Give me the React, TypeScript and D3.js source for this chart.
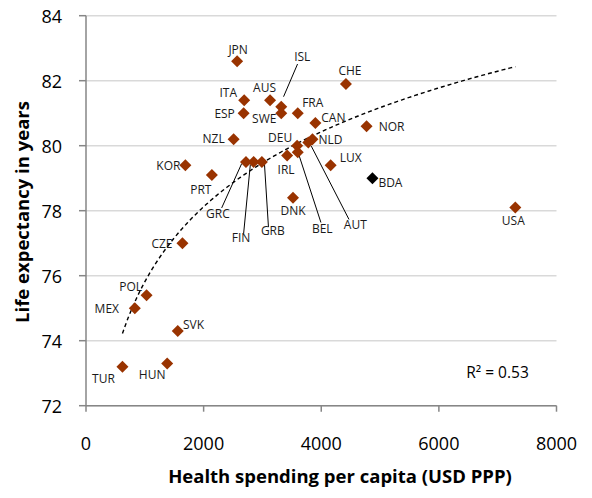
import React from "react";
import * as d3 from "d3";

// Health spending per capita (USD PPP) and life expectancy, by country
const countries = [
  "JPN", "ISL", "SWE", "AUS", "ITA", "ESP", "CHE", "FRA", "CAN", "NOR",
  "NZL", "DEU", "IRL", "BEL", "NLD", "AUT", "LUX", "USA", "KOR", "PRT",
  "GRC", "FIN", "GRB", "DNK", "CZE", "POL", "MEX", "SVK", "HUN", "TUR",
  "BDA",
];
const spending = [
  2570, 3320, 3320, 3130, 2690, 2680, 4420, 3600, 3900, 4770,
  2510, 3590, 3420, 3600, 3850, 3780, 4160, 7300, 1690, 2140,
  2720, 2850, 2990, 3520, 1640, 1030, 830, 1560, 1380, 620,
  4870,
];
const lifeExpectancy = [
  82.6, 81.2, 81.0, 81.4, 81.4, 81.0, 81.9, 81.0, 80.7, 80.6,
  80.2, 80.0, 79.7, 79.8, 80.2, 80.1, 79.4, 78.1, 79.4, 79.1,
  79.5, 79.5, 79.5, 78.4, 77.0, 75.4, 75.0, 74.3, 73.3, 73.2,
  79.0,
];

// Countries drawn with a black marker instead of the series colour
const highlighted = ["BDA"];

// Coefficient of determination reported for the logarithmic trend
const rSquared = 0.53;

const xTicks = [0, 2000, 4000, 6000, 8000];
const yTicks = [72, 74, 76, 78, 80, 82, 84];

// Label placement relative to each marker (label centre, optional leader line)
type Layout = { dx: number; dy: number; leader?: [number, number, number, number] };
const labelLayout: Record<string, Layout> = {
  JPN: { dx: 1, dy: -12 },
  ISL: { dx: 21, dy: -50, leader: [16.3, -42.7, 2.3, -10] },
  SWE: { dx: -17, dy: 5.5 },
  AUS: { dx: -5.5, dy: -12.5 },
  ITA: { dx: -16, dy: -8 },
  ESP: { dx: -19, dy: 0 },
  CHE: { dx: 4, dy: -13.5 },
  FRA: { dx: 15, dy: -10.5 },
  CAN: { dx: 18, dy: -5 },
  NOR: { dx: 25, dy: 0.5 },
  NZL: { dx: -20, dy: -1 },
  DEU: { dx: -17, dy: -8 },
  IRL: { dx: -1, dy: 14 },
  BEL: { dx: 24.5, dy: 76, leader: [23.2, 70.3, 1.5, 3.7] },
  NLD: { dx: 18, dy: 0 },
  AUT: { dx: 47, dy: 82.5, leader: [40.7, 77, 3, 3.7] },
  LUX: { dx: 20, dy: -8 },
  USA: { dx: -2, dy: 13.5 },
  KOR: { dx: -17, dy: 0 },
  PRT: { dx: -11, dy: 15 },
  GRC: { dx: -28, dy: 51.5, leader: [-24.3, 46, -4.3, 1.7] },
  FIN: { dx: -12.5, dy: 75.4, leader: [-10, 71.7, -3.3, 2.7] },
  GRB: { dx: 11, dy: 69, leader: [6.6, 65, 2.6, 1.7] },
  DNK: { dx: 0, dy: 13 },
  CZE: { dx: -20.5, dy: 0 },
  POL: { dx: -16, dy: -9 },
  MEX: { dx: -28, dy: 0.7 },
  SVK: { dx: 15.7, dy: -6.5 },
  HUN: { dx: -15, dy: 11 },
  TUR: { dx: -19, dy: 11.7 },
  BDA: { dx: 18, dy: 4 },
};

const W = 592;
const H = 498;
const FONT = "'Open Sans', 'Noto Sans', sans-serif";
const MARKER = "#993300";

export default function App() {
  const x = d3.scaleLinear().domain([0, 8000]).range([86, 556.5]);
  const y = d3.scaleLinear().domain([72, 84]).range([405.7, 15.7]);

  // Logarithmic least-squares fit over the whole series: y = a + b ln(x)
  const lx = spending.map((v) => Math.log(v));
  const mx = d3.mean(lx) as number;
  const my = d3.mean(lifeExpectancy) as number;
  let sxy = 0;
  let sxx = 0;
  lx.forEach((v, i) => {
    sxy += (v - mx) * (lifeExpectancy[i] - my);
    sxx += (v - mx) * (v - mx);
  });
  const b = sxy / sxx;
  const a = my - b * mx;
  const fit = (v: number) => a + b * Math.log(v);

  const [xMin, xMax] = d3.extent(spending) as [number, number];
  const curveXs = d3.range(0, 201).map((i) => xMin + ((xMax - xMin) * i) / 200);
  const trendPath = d3
    .line<number>()
    .x((v) => x(v))
    .y((v) => y(fit(v)))(curveXs) as string;

  const diamond = (cx: number, cy: number, r: number) =>
    `M${cx},${cy - r}L${cx + r},${cy}L${cx},${cy + r}L${cx - r},${cy}Z`;

  const points = countries.map((c, i) => ({
    code: c,
    sx: spending[i],
    le: lifeExpectancy[i],
    color: highlighted.includes(c) ? "#000000" : MARKER,
  }));

  return (
    <svg
      width={W}
      height={H}
      style={{ position: "absolute", left: 0, top: 0, background: "#fff" }}
      fontFamily={FONT}
    >
      {/* gridlines */}
      {yTicks.map((t) => (
        <line key={`g${t}`} x1={x(0)} x2={x(8000)} y1={y(t)} y2={y(t)} stroke="#d9d9d9" strokeWidth={1.5} />
      ))}
      {/* axes */}
      <line x1={x(0)} x2={x(0)} y1={y(72)} y2={y(84)} stroke="#868686" strokeWidth={1.5} />
      <line x1={x(0)} x2={x(8000)} y1={y(72)} y2={y(72)} stroke="#868686" strokeWidth={1.5} />
      {yTicks.map((t) => (
        <g key={`y${t}`}>
          <line x1={x(0) - 7} x2={x(0)} y1={y(t)} y2={y(t)} stroke="#868686" strokeWidth={1.5} />
          <text x={62} y={y(t) + 6.8} textAnchor="end" fontSize={18} fill="#000">
            {t}
          </text>
        </g>
      ))}
      {xTicks.map((t) => (
        <g key={`x${t}`}>
          <line x1={x(t)} x2={x(t)} y1={y(72)} y2={y(72) + 6} stroke="#868686" strokeWidth={1.5} />
          <text x={x(t)} y={450} textAnchor="middle" fontSize={18} fill="#000">
            {t}
          </text>
        </g>
      ))}
      <text x={340} y={482.7} textAnchor="middle" fontSize={18.5} fontWeight="bold" fill="#000">
        Health spending per capita (USD PPP)
      </text>
      <text
        transform="translate(28.5,212) rotate(-90)"
        textAnchor="middle"
        fontSize={18.5}
        fontWeight="bold"
        fill="#000"
      >
        Life expectancy in years
      </text>

      {/* trend line */}
      <path d={trendPath} fill="none" stroke="#000" strokeWidth={1.4} strokeDasharray="4,3" />

      {/* leader lines */}
      {points.map((p) => {
        const l = labelLayout[p.code];
        if (!l || !l.leader) return null;
        const px = x(p.sx);
        const py = y(p.le);
        return (
          <line
            key={`l${p.code}`}
            x1={px + l.leader[0]}
            y1={py + l.leader[1]}
            x2={px + l.leader[2]}
            y2={py + l.leader[3]}
            stroke="#000"
            strokeWidth={1}
          />
        );
      })}

      {/* markers */}
      {points.map((p) => (
        <path key={`m${p.code}`} d={diamond(x(p.sx), y(p.le), 6)} fill={p.color} />
      ))}

      {/* data labels */}
      {points.map((p) => {
        const l = labelLayout[p.code] || { dx: 0, dy: -12 };
        return (
          <text
            key={`t${p.code}`}
            x={x(p.sx) + l.dx}
            y={y(p.le) + l.dy + 4.3}
            textAnchor="middle"
            fontSize={12}
            fill="#1a1a1a"
          >
            {p.code}
          </text>
        );
      })}

      <text x={497.5} y={377.5} textAnchor="middle" fontSize={15.5} fill="#000">
        {`R² = ${d3.format(".2f")(rSquared)}`}
      </text>
    </svg>
  );
}
